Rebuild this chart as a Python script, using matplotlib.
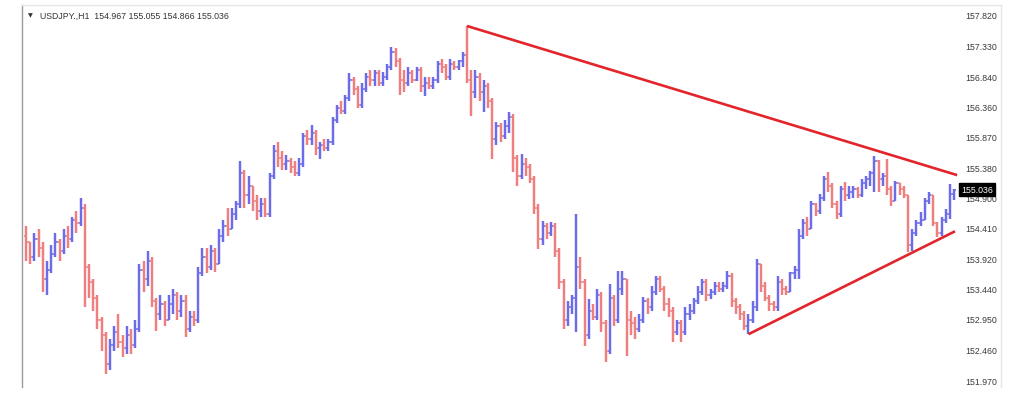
import matplotlib
matplotlib.use("Agg")
import matplotlib.pyplot as plt
import matplotlib.transforms as mtransforms

# ---------------- data (USDJPY H1) ----------------
symbol_title = "USDJPY.,H1  154.967 155.055 154.866 155.036"
first_open = 154.30

closes = [
    154.20, 153.95, 154.25, 154.10, 153.60, 153.75, 154.00, 154.20, 154.05, 154.30,
    154.25, 154.55, 154.50, 154.75, 153.80, 153.55, 153.30, 152.95, 152.70, 152.25,
    152.55, 152.75, 152.60, 152.50, 152.70, 152.55, 152.80, 153.75, 153.60, 153.90,
    153.25, 153.05, 153.20, 152.95, 153.20, 153.35, 153.10, 153.25, 152.80, 153.00,
    152.95, 153.70, 153.95, 153.80, 154.05, 153.85, 154.30, 154.45, 154.40, 154.65,
    154.80, 155.30, 154.95, 155.10, 154.85, 154.70, 154.80, 154.65, 155.25, 155.65,
    155.55, 155.45, 155.50, 155.40, 155.30, 155.45, 155.90, 155.85, 155.95, 155.70,
    155.75, 155.70, 155.80, 156.15, 156.35, 156.30, 156.50, 156.80, 156.65, 156.40,
    156.65, 156.85, 156.80, 156.90, 156.75, 156.85, 157.00, 157.25, 157.10, 156.80,
    156.75, 156.90, 156.80, 156.95, 156.70, 156.75, 156.70, 156.80, 157.05, 157.00,
    156.85, 157.05, 157.00, 157.10, 157.20, 156.80, 156.60, 156.85, 156.60, 156.70,
    156.45, 155.85, 156.05, 155.90, 156.05, 156.20, 155.55, 155.25, 155.45, 155.40,
    155.20, 154.75, 154.25, 154.45, 154.35, 154.45, 154.05, 153.55, 152.95, 153.15,
    153.30, 153.80, 153.55, 152.70, 153.10, 153.00, 153.35, 152.90, 152.45, 153.30,
    152.95, 153.45, 153.60, 152.95, 152.90, 152.80, 152.95, 153.25, 153.15, 153.40,
    153.60, 153.45, 153.20, 153.10, 152.75, 152.90, 152.75, 153.05, 153.10, 153.25,
    153.40, 153.55, 153.35, 153.40, 153.50, 153.45, 153.50, 153.65, 153.25, 153.15,
    153.05, 152.85, 152.95, 153.15, 153.85, 153.50, 153.30, 153.20, 153.15, 153.55,
    153.45, 153.40, 153.70, 153.75, 154.30, 154.50, 154.40, 154.80, 154.70, 154.90,
    155.20, 155.10, 154.80, 154.65, 155.05, 154.95, 155.00, 155.05, 154.95, 155.15,
    155.20, 155.30, 155.50, 155.20, 155.25, 155.05, 154.85, 155.15, 155.05, 154.95,
    154.15, 154.35, 154.50, 154.55, 154.85, 154.95, 154.50, 154.35, 154.55, 154.65,
    154.967, 155.036,
]
highs = [
    154.45, 154.20, 154.35, 154.40, 154.20, 153.90, 154.15, 154.35, 154.25, 154.40,
    154.45, 154.60, 154.70, 154.90, 154.80, 153.85, 153.60, 153.35, 153.00, 152.75,
    152.65, 152.85, 153.05, 152.70, 152.85, 152.80, 152.95, 153.85, 153.90, 154.05,
    153.95, 153.30, 153.35, 153.25, 153.35, 153.45, 153.40, 153.35, 153.35, 153.10,
    153.10, 153.80, 154.10, 154.10, 154.15, 154.10, 154.40, 154.55, 154.75, 154.75,
    154.85, 155.50, 155.35, 155.25, 155.10, 154.95, 154.90, 154.90, 155.30, 155.75,
    155.80, 155.65, 155.60, 155.55, 155.50, 155.55, 155.95, 156.00, 156.08, 156.00,
    155.80, 155.85, 155.85, 156.20, 156.40, 156.45, 156.55, 156.90, 156.85, 156.70,
    156.75, 156.90, 156.95, 156.95, 156.95, 156.92, 157.05, 157.32, 157.30, 157.15,
    156.95, 157.00, 156.95, 157.00, 157.00, 156.85, 156.85, 156.85, 157.10, 157.13,
    157.05, 157.13, 157.10, 157.12, 157.25, 157.66, 156.95, 156.95, 156.90, 156.80,
    156.75, 156.50, 156.12, 156.10, 156.15, 156.28, 156.25, 155.60, 155.61, 155.55,
    155.45, 155.25, 154.80, 154.53, 154.50, 154.52, 154.50, 154.10, 153.60, 153.25,
    153.35, 154.65, 153.96, 153.60, 153.28, 153.20, 153.44, 153.40, 152.95, 153.52,
    153.35, 153.73, 153.73, 153.60, 153.10, 153.00, 153.05, 153.32, 153.30, 153.50,
    153.65, 153.65, 153.50, 153.30, 153.15, 152.95, 152.95, 153.15, 153.20, 153.30,
    153.50, 153.60, 153.60, 153.45, 153.55, 153.55, 153.55, 153.73, 153.70, 153.30,
    153.20, 153.10, 153.05, 153.25, 153.93, 153.85, 153.55, 153.35, 153.25, 153.65,
    153.60, 153.50, 153.72, 153.81, 154.41, 154.57, 154.60, 154.86, 154.82, 154.97,
    155.26, 155.32, 155.15, 154.85, 155.10, 155.16, 155.10, 155.10, 155.08, 155.20,
    155.26, 155.34, 155.58, 155.52, 155.30, 155.53, 155.10, 155.18, 155.15, 155.10,
    154.95, 154.41, 154.55, 154.68, 154.90, 155.00, 154.89, 154.52, 154.60, 154.73,
    155.13, 155.055,
]
lows = [
    153.90, 153.85, 153.90, 153.95, 153.40, 153.35, 153.70, 153.95, 153.90, 154.00,
    154.10, 154.20, 154.35, 154.45, 153.15, 153.30, 153.10, 152.80, 152.45, 152.08,
    152.15, 152.45, 152.50, 152.35, 152.40, 152.40, 152.50, 152.75, 153.40, 153.50,
    153.15, 152.77, 152.95, 152.85, 152.95, 153.05, 152.95, 153.00, 152.68, 152.75,
    152.85, 152.90, 153.65, 153.70, 153.75, 153.72, 153.85, 154.20, 154.30, 154.40,
    154.55, 154.75, 154.75, 154.80, 154.70, 154.55, 154.60, 154.60, 154.60, 155.20,
    155.40, 155.35, 155.35, 155.30, 155.25, 155.25, 155.40, 155.75, 155.75, 155.60,
    155.53, 155.65, 155.65, 155.75, 156.10, 156.25, 156.25, 156.45, 156.55, 156.35,
    156.35, 156.60, 156.70, 156.70, 156.70, 156.70, 156.80, 156.95, 157.00, 156.55,
    156.60, 156.70, 156.75, 156.78, 156.60, 156.54, 156.65, 156.65, 156.75, 156.90,
    156.80, 156.80, 156.95, 156.95, 157.00, 156.75, 156.22, 156.50, 156.45, 156.28,
    156.35, 155.53, 155.75, 155.80, 155.85, 155.95, 155.32, 155.10, 155.20, 155.25,
    155.15, 154.65, 154.09, 154.15, 154.25, 154.30, 153.95, 153.45, 152.80, 152.85,
    153.05, 152.76, 153.45, 152.53, 152.65, 152.95, 152.95, 152.75, 152.27, 152.40,
    152.85, 152.90, 153.35, 152.37, 152.70, 152.64, 152.75, 152.90, 153.05, 153.10,
    153.35, 153.40, 153.10, 153.00, 152.60, 152.70, 152.60, 152.70, 152.95, 153.05,
    153.20, 153.35, 153.25, 153.28, 153.35, 153.40, 153.40, 153.45, 153.16, 153.05,
    152.95, 152.78, 152.72, 152.90, 153.10, 153.40, 153.25, 153.10, 153.09, 153.10,
    153.35, 153.35, 153.40, 153.60, 153.61, 154.25, 154.30, 154.40, 154.62, 154.65,
    154.85, 155.00, 154.75, 154.57, 154.60, 154.85, 154.89, 154.90, 154.90, 154.92,
    155.05, 155.10, 155.00, 155.00, 155.10, 154.95, 154.77, 154.85, 154.95, 154.90,
    154.04, 154.05, 154.30, 154.45, 154.55, 154.80, 154.45, 154.28, 154.30, 154.50,
    154.57, 154.866,
]

price_ticks = [157.820, 157.330, 156.840, 156.360, 155.870, 155.380, 154.900,
               154.410, 153.920, 153.440, 152.950, 152.460, 151.970]
last_price = 155.036

# trend lines: (bar index, price)
upper_line_x = [105, 221.7]
upper_line_y = [157.66, 155.27]
lower_line_x = [172, 221.2]
lower_line_y = [152.72, 154.37]

# ---------------- drawing ----------------
BLUE = "#6c6cea"
RED = "#ef7f7f"

W, H = 1024, 402
fig = plt.figure(figsize=(W / 100, H / 100), dpi=100)
fig.patch.set_facecolor("white")
left_px, right_px, top_px, bot_px = 22, 1001, 6, 388
ax = fig.add_axes([left_px / W, 1 - bot_px / H, (right_px - left_px) / W, (bot_px - top_px) / H])

opens = [first_open] + closes[:-1]
xs = list(range(len(closes)))
hi = [max(h, o, c) for h, o, c in zip(highs, opens, closes)]
lo = [min(l, o, c) for l, o, c in zip(lows, opens, closes)]
cols = [BLUE if c >= o else RED for o, c in zip(opens, closes)]

ax.vlines(xs, lo, hi, colors=cols, linewidth=1.75, zorder=3)
tick = 0.5
ax.hlines(opens, [x - tick for x in xs], xs, colors=cols, linewidth=1.1, zorder=3)
ax.hlines(closes, xs, [x + tick for x in xs], colors=cols, linewidth=1.1, zorder=3)

ax.plot(upper_line_x, upper_line_y, color="#e3242b", linewidth=1.9, zorder=4,
        solid_capstyle="butt")
ax.plot(lower_line_x, lower_line_y, color="#e3242b", linewidth=1.9, zorder=4,
        solid_capstyle="butt")

# pixel -> data mapping
spacing = 4.2
x0_px = 26
ax.set_xlim((left_px - x0_px) / spacing, (right_px - x0_px) / spacing)
ppu = 62.4
ax.set_ylim(157.82 - (bot_px - 17) / ppu, 157.82 - (top_px - 17) / ppu)

ax.set_xticks([])
ax.set_yticks([])
ax.spines["left"].set_color("#9a9a9a")
ax.spines["left"].set_linewidth(1.0)
for s in ["top", "right"]:
    ax.spines[s].set_color("#e6e6e6")
    ax.spines[s].set_linewidth(1.0)
ax.spines["bottom"].set_visible(False)

trans = mtransforms.blended_transform_factory(ax.transAxes, ax.transData)
lab_x = (965 - left_px) / (right_px - left_px)
for p in price_ticks:
    ax.text(lab_x, p, f"{p:.3f}", transform=trans, ha="left", va="center",
            fontsize=6.3, color="#3a3a3a", family="Liberation Sans", zorder=5)

ax.text(lab_x - 0.004, last_price, f"{last_price:.3f}", transform=trans, ha="left",
        va="center", fontsize=6.3, color="white", family="Liberation Sans", zorder=7,
        bbox=dict(boxstyle="square,pad=0.25", facecolor="black", edgecolor="black"))

fig.text(28 / W, 1 - 16 / H, "\u25BC", fontsize=4.5, color="#333333",
         ha="left", va="center", family="DejaVu Sans")
fig.text(40 / W, 1 - 16 / H, symbol_title, fontsize=6.3, color="#333333",
         ha="left", va="center", family="Liberation Sans")

fig.savefig("out.png", dpi=100, facecolor="white")
